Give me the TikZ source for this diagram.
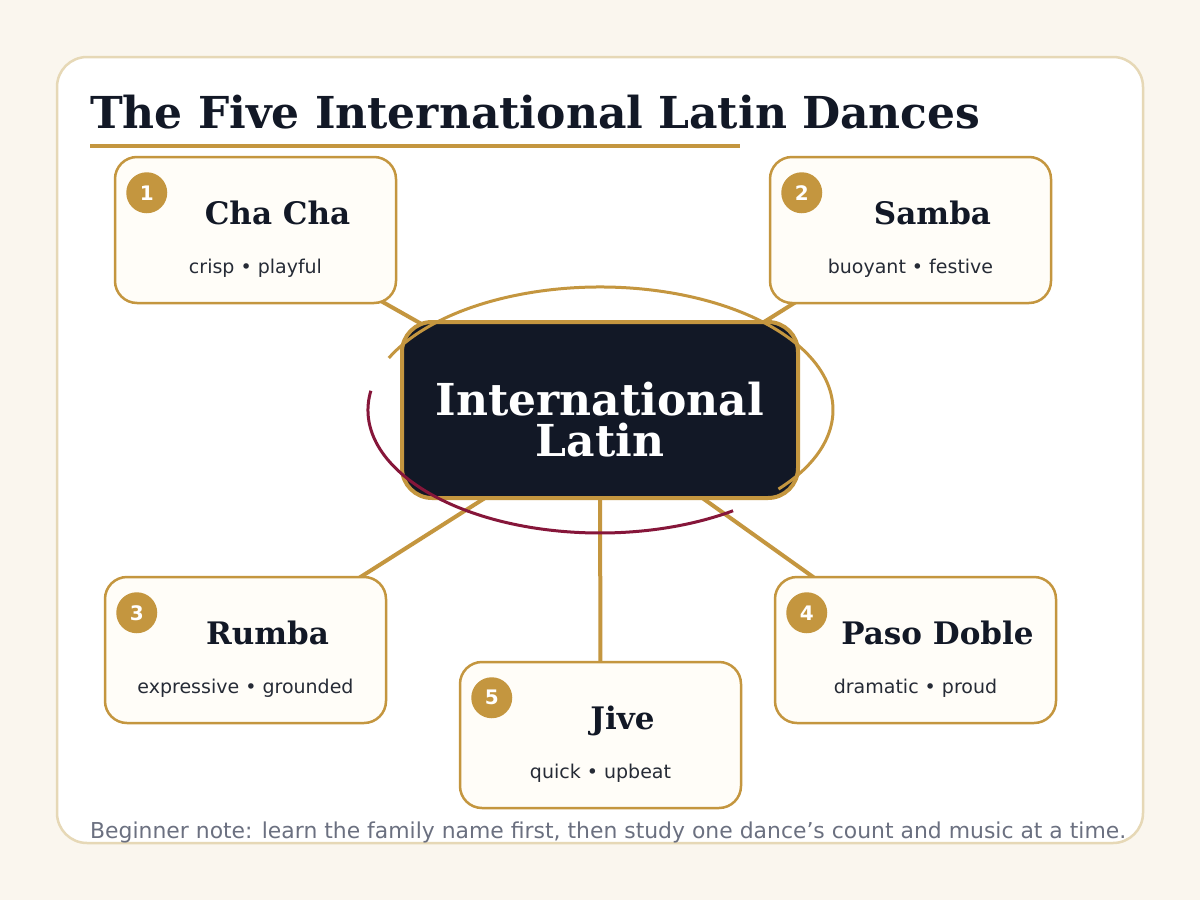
\documentclass[tikz,border=0pt]{standalone}
\usepackage{fontspec}
\setmainfont{DejaVu Sans}
\newfontfamily\dserif{DejaVu Serif}
\usetikzlibrary{calc}
\definecolor{bgcream}{HTML}{FAF6EE}
\definecolor{cardline}{HTML}{E6D8B6}
\definecolor{gold}{HTML}{C4963F}
\definecolor{navy}{HTML}{121826}
\definecolor{boxfill}{HTML}{FFFDF8}
\definecolor{crimson}{HTML}{86163A}
\definecolor{notegrey}{HTML}{6B7080}
\definecolor{subtext}{HTML}{262B36}
\pgfdeclarelayer{back}
\pgfdeclarelayer{links}
\pgfsetlayers{back,links,main}
\tikzset{
  dancebox/.style={draw=gold, line width=2.5pt, fill=boxfill, rounded corners=22pt,
    minimum width=281pt, minimum height=146pt, inner sep=0pt},
  badge/.style={circle, fill=gold, minimum size=41pt, inner sep=0pt, text=white,
    font=\fontsize{20}{20}\selectfont\bfseries},
  dname/.style={text=navy, font=\dserif\fontsize{31}{31}\selectfont\bfseries},
  dsub/.style={text=subtext, font=\fontsize{19}{19}\selectfont},
  link/.style={draw=gold, line width=4pt},
}
\begin{document}
\begin{tikzpicture}[x=1pt,y=-1pt]
\useasboundingbox (0,0) rectangle (1200,900);
% hub
\node[draw=gold, line width=4pt, fill=navy, rounded corners=30pt, minimum width=396pt,
  minimum height=176pt, inner sep=0pt] (hub) at (600,410) {};
\node[text=white, align=center, inner sep=0pt,
  font=\dserif\fontsize{44}{41}\selectfont\bfseries] (hubtext) at ($(hub.center)+(0,10)$) {International\\Latin};
% boxes
\node[dancebox] (b1) at (255.5,230) {};
\node[dancebox] (b2) at (910.5,230) {};
\node[dancebox] (b3) at (245.5,650) {};
\node[dancebox] (b4) at (915.5,650) {};
\node[dancebox] (b5) at (600.5,735) {};
\foreach \b/\n/\t/\s in {b1/1/Cha Cha/crisp • playful, b2/2/Samba/buoyant • festive,
  b3/3/Rumba/expressive • grounded, b4/4/Paso Doble/dramatic • proud, b5/5/Jive/quick • upbeat}{
  \node[badge] (\b n) at ($(\b.north west)+(33,37)$) {\n};
  \node[dname, anchor=base] (\b t) at ($(\b.north)+(22,69)$) {\t};
  \node[dsub, anchor=base] (\b s) at ($(\b.north)+(0,118)$) {\s};
}
% title
\node[anchor=base west, inner sep=0pt, text=navy, font=\dserif\fontsize{44}{44}\selectfont\bfseries]
  (title) at (90,128) {The Five International Latin Dances};
\draw[gold, line width=4pt] (90,146) -- (740,146);
% footer
\node[anchor=base west, inner sep=0pt, text=notegrey, font=\fontsize{21.9}{22}\selectfont]
  (note) at (90,838) {Beginner note: learn the family name first, then study one dance’s count and music at a time.};
% arcs over hub
\draw[gold, line width=3pt] ($(hub.center)+(205:233 and 123)$) arc[start angle=205, end angle=400, x radius=233, y radius=123];
\draw[crimson, line width=3pt] ($(hub.center)+(189:232 and 123)$) arc[start angle=189, end angle=55, x radius=232, y radius=123];
% links
\begin{pgfonlayer}{links}
\foreach \b in {b1,b2,b3,b4,b5} \draw[link] ([yshift=-15pt]hub.center) -- (\b.center);
\end{pgfonlayer}
\begin{pgfonlayer}{back}
\fill[bgcream] (0,0) rectangle (1200,900);
\draw[cardline, fill=white, line width=2.5pt, rounded corners=30pt] (57,57) rectangle (1143,843);
\end{pgfonlayer}
\end{tikzpicture}
\end{document}
